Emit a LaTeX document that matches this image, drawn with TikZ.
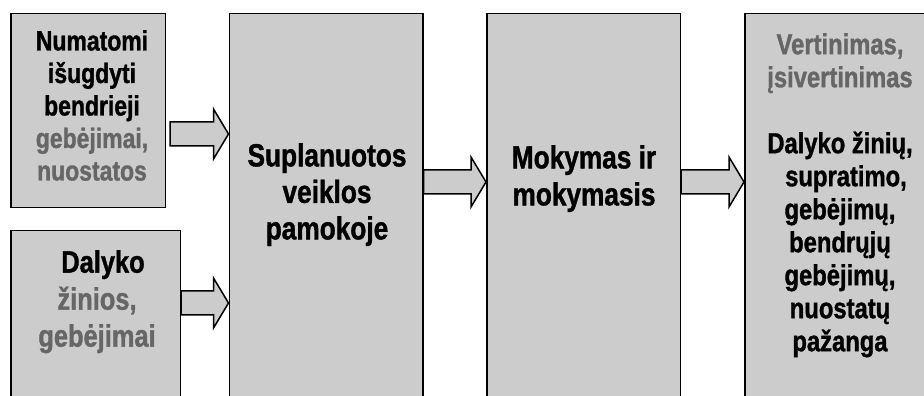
\documentclass[tikz,border=0pt]{standalone}
\usepackage{fontspec}
\setmainfont{Liberation Sans}[FakeStretch=0.82, BoldFeatures={FakeBold=1.2}]
\usetikzlibrary{calc}
\definecolor{boxgray}{HTML}{CCCCCC}
\definecolor{softgray}{HTML}{666666}
% block arrow from #1 to #2 at height #3, tail gap #4
\newcommand{\blockarrow}[4]{%
  \draw[arrowbox] let \p1=(#1.east), \p2=(#2.west) in
    (\x1+#4,#3+12) -- (\x2-15,#3+12) -- (\x2-15,#3+25) -- (\x2,#3)
    -- (\x2-15,#3-25) -- (\x2-15,#3-12) -- (\x1+#4,#3-12) -- cycle;}
\begin{document}
\begin{tikzpicture}[
            x=1pt, y=1pt,
            block/.style={rectangle, draw, line width=1.5pt, fill=boxgray, inner sep=0pt, anchor=north west},
            blocktext/.style={anchor=north, inner sep=0pt, align=center},
            arrowbox/.style={draw, line width=1.5pt, fill=boxgray, line join=miter}
        ]
        \clip (0,0) rectangle (924,396);
        \node[block, minimum width=154.5pt, minimum height=194pt] (goals) at (10,383) {};
        \node[block, minimum width=169.5pt, minimum height=200pt] (subject) at (10,166) {};
        \node[block, minimum width=193.5pt, minimum height=420pt] (plan) at (228.5,383) {};
        \node[block, minimum width=193.5pt, minimum height=420pt] (teach) at (486,383) {};
        \node[block, minimum width=194pt, minimum height=420pt] (assess) at (744,383) {};

        \blockarrow{goals}{plan}{262}{4}
        \blockarrow{subject}{plan}{93}{0}
        \blockarrow{plan}{teach}{214}{0}
        \blockarrow{teach}{assess}{214}{0}

        \node[blocktext, font=\bfseries\fontsize{28}{32.5}\selectfont] (goalstext) at (92,366)
            {Numatomi\\išugdyti\\bendrieji\\\textcolor{softgray}{gebėjimai,}\\\textcolor{softgray}{nuostatos}};
        \node[blocktext, font=\bfseries\fontsize{31}{37}\selectfont] (subjecttext) at (97,146)
            {\hspace{12pt}Dalyko\\\textcolor{softgray}{žinios,}\\\textcolor{softgray}{gebėjimai}};
        \node[blocktext, font=\bfseries\fontsize{32}{36.5}\selectfont] (plantext) at (327,253)
            {Suplanuotos\\veiklos\\pamokoje};
        \node[blocktext, font=\bfseries\fontsize{32}{37}\selectfont] (teachtext) at (584,251)
            {Mokymas ir\\mokymasis};
        \node[blocktext, font=\bfseries\fontsize{29}{33}\selectfont] (assesstext) at (840,363)
            {\textcolor{softgray}{Vertinimas,}\\\textcolor{softgray}{įsivertinimas}\\[33pt]Dalyko žinių,\\\hspace{12pt}supratimo,\\gebėjimų,\\bendrųjų\\gebėjimų,\\nuostatų\\pažanga};
        \end{tikzpicture}
\end{document}
